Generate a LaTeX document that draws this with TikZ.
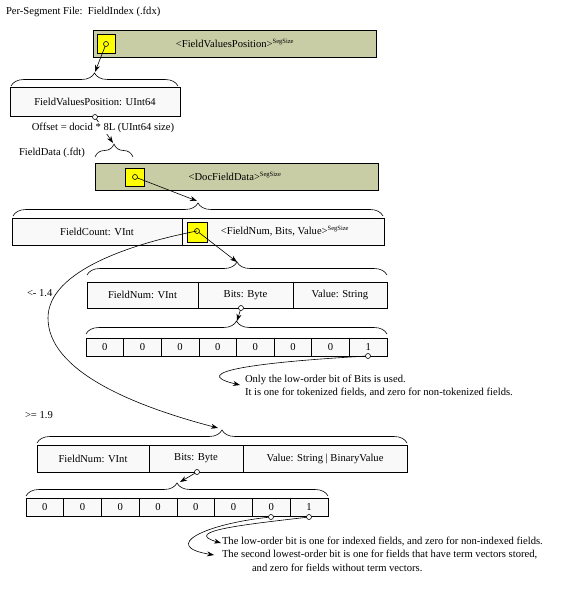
\documentclass[tikz,border=0pt]{standalone}
\usepackage{fontspec}
\setmainfont{Liberation Serif}
\usetikzlibrary{decorations.pathreplacing,arrows.meta,calc}
\definecolor{barfill}{HTML}{C9CDA6}
\definecolor{boxfill}{HTML}{F9F9F9}
\definecolor{ptrfill}{HTML}{FFFF00}
\begin{document}
\begin{tikzpicture}[x=1pt,y=-1pt,
  font=\fontsize{10.6}{12}\selectfont,
  every node/.style={inner sep=0pt, outer sep=0pt},
  bar/.style={draw, line width=0.7pt, fill=barfill},
  cellbox/.style={draw, line width=0.6pt, fill=boxfill},
  ptr/.style={draw, line width=0.6pt, fill=ptrfill},
  dot/.style={draw, line width=0.6pt, circle, minimum size=5pt},
  lbl/.style={anchor=west},
  conn/.style={line width=0.6pt, -{Stealth[length=7pt,width=5pt]}},
  brc/.style={line width=0.6pt, decorate, decoration={brace, amplitude=13pt}}]
\useasboundingbox (0,0) rectangle (565,593);

% title
\node[lbl] (title) at (6,12) {Per-Segment File:\ \ FieldIndex (.fdx)};

% top bar
\node[bar, minimum width=283pt, minimum height=27pt] (bar1) at (234.5,43.5) {};
\node (t1) at (235,43) {<FieldValuesPosition>\textsuperscript{\fontsize{6.5}{7}\selectfont SegSize}};
\node[ptr, minimum width=18pt, minimum height=19pt] (sq1) at (106,43.5) {};
\node[dot] (c1) at (106,44) {};

% FieldValuesPosition box
\node[cellbox, minimum width=170pt, minimum height=29pt] (fvp) at (95,101.5) {FieldValuesPosition: UInt64};
\draw[brc] (11,86) -- (178,86);
\coordinate (b1) at (95,72);
\node[dot, fill=white] (c2) at (95,117) {};

% offset
\coordinate (b0) at (113,143);
\draw[conn] (c2) -- (b0);
\node[fill=white, inner sep=1pt] (off) at (103,128) {Offset = docid * 8L (UInt64 size)};
\node[lbl] (fdt) at (19,153) {FieldData (.fdt)};
\draw[brc] (95,157) -- (133,157);

% second bar
\node[bar, minimum width=283pt, minimum height=27pt] (bar2) at (236.5,176.5) {};
\node (t2) at (235,176) {<DocFieldData>\textsuperscript{\fontsize{6.5}{7}\selectfont SegSize}};
\node[ptr, minimum width=19pt, minimum height=18pt] (sq2) at (134.5,177) {};
\node[dot] (c3) at (135,177) {};

% FieldCount row
\node[cellbox, minimum width=170pt, minimum height=27pt] (fc) at (97,231.5) {FieldCount: VInt};
\node[cellbox, minimum width=202pt, minimum height=27pt] (fnbv) at (283,231.5) {};
\node (t3) at (285,231) {<FieldNum, Bits, Value>\textsuperscript{\fontsize{6.5}{7}\selectfont SegSize}};
\node[ptr, minimum width=20pt, minimum height=20pt] (sq3) at (197,232) {};
\node[dot] (c4) at (197,231) {};
\draw[brc] (13,216) -- (383,216);
\coordinate (b2) at (197,201);

% row for <- 1.4
\node[lbl] (v14) at (27,293) {<- 1.4};
\node[cellbox, minimum width=111pt, minimum height=26pt] (fn1) at (142.5,295) {FieldNum: VInt};
\node[cellbox, minimum width=95pt, minimum height=26pt] (bits1) at (245.5,295) {Bits: Byte};
\node[cellbox, minimum width=94pt, minimum height=26pt] (val1) at (340,295) {Value: String};
\draw[brc] (87,275) -- (387,275);
\coordinate (b3) at (237,262);
\node[dot, fill=white] (c5) at (241,308) {};

% bits row 1
\foreach \i/\v in {0/0,1/0,2/0,3/0,4/0,5/0,6/0,7/1}{
  \node[cellbox, minimum width=37.625pt, minimum height=18pt] (ba\i) at ({86+37.625*(\i+0.5)},347) {\v};
}
\draw[brc] (86,334) -- (387,334);
\coordinate (b4) at (237,321);
\node[dot, fill=white] (c6) at (368,356) {};

% note 1
\node[lbl, align=left, font=\fontsize{10.6}{13}\selectfont] (note1) at (245,386.5) {Only the low-order bit of Bits is used.\\It is one for tokenized fields, and zero for non-tokenized fields.};
\coordinate (n1) at (240,385);

% row for >= 1.9
\node[lbl] (v19) at (25,415) {>= 1.9};
\node[cellbox, minimum width=112pt, minimum height=27pt] (fn2) at (93,458.5) {FieldNum: VInt};
\node[cellbox, minimum width=94pt, minimum height=27pt] (bits2) at (196,458.5) {Bits: Byte};
\node[cellbox, minimum width=164pt, minimum height=27pt] (val2) at (325,458.5) {Value: String | BinaryValue};
\draw[brc] (37,443) -- (407,443);
\coordinate (b5) at (218,428);
\node[dot, fill=white] (c7) at (197,472) {};

% bits row 2
\foreach \i/\v in {0/0,1/0,2/0,3/0,4/0,5/0,6/0,7/1}{
  \node[cellbox, minimum width=37.75pt, minimum height=18pt] (bb\i) at ({26+37.75*(\i+0.5)},507) {\v};
}
\draw[brc] (26,496) -- (328,496);
\coordinate (b6) at (180,482);
\node[dot, fill=white] (c8) at (271,517) {};
\node[dot, fill=white] (c9) at (309,517) {};

% notes 2
\node[lbl] (note2) at (222,542) {The low-order bit is one for indexed fields, and zero for non-indexed fields.};
\node[lbl] (note3) at (222,555) {The second lowest-order bit is one for fields that have term vectors stored,};
\node[lbl] (note4) at (252,568) {and zero for fields without term vectors.};
\coordinate (n2) at (221,543);
\coordinate (n3) at (214,555);

% connectors
\draw[conn] (c1) -- (b1);
\draw[conn] (c3) -- (b2);
\draw[conn] (c4) -- (b3);
\draw[conn] (c4.center) .. controls (135,243) and (48,270) .. (48,318) .. controls (48,370) and (130,405) .. (b5);
\draw[conn] (c5) -- (b4);
\draw[conn] (c6) .. controls (260,362) and (185,372) .. (n1);
\draw[conn] (c7) -- (b6);
\draw[conn] (c9) .. controls (250,524) and (180,531) .. (n2);
\draw[conn] (c8) .. controls (205,524) and (160,546) .. (n3);
\end{tikzpicture}
\end{document}
